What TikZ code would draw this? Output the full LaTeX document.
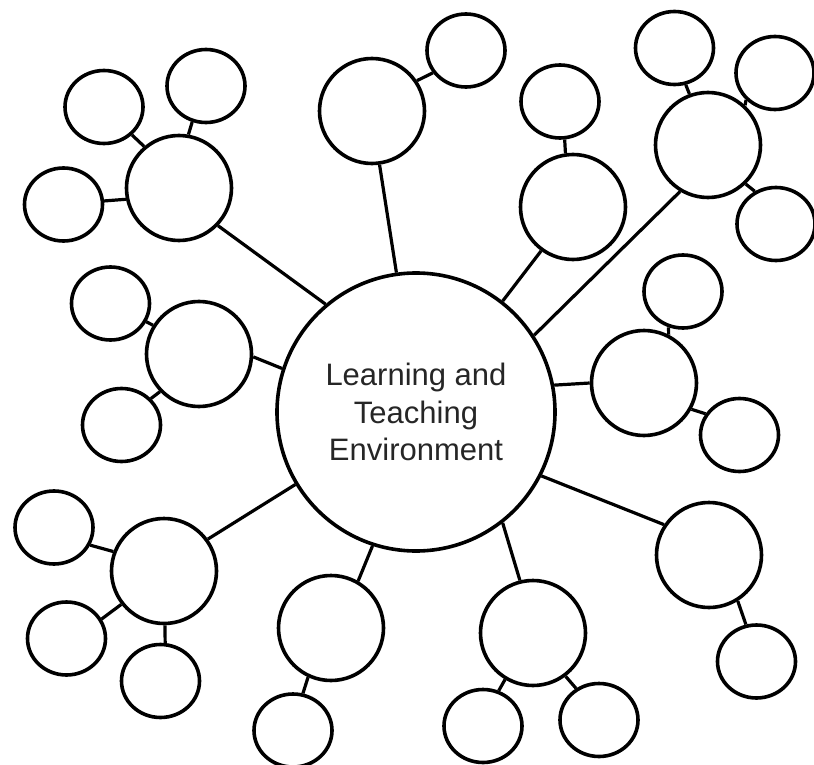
\documentclass[tikz,border=0pt]{standalone}
\usepackage{fontspec}
\setmainfont{Liberation Sans}
\usetikzlibrary{shapes.geometric}
\begin{document}
\begin{tikzpicture}[x=1pt,y=-1pt,
  hub/.style={circle,draw,line width=3.6pt,minimum size=278pt,inner sep=0pt,
    align=center,font=\fontsize{31}{37.5}\selectfont,text=black!85},
  topic/.style={circle,draw,line width=3.6pt,minimum size=105pt,inner sep=0pt},
  leaf/.style={ellipse,draw,line width=3.6pt,minimum width=78pt,minimum height=73pt,inner sep=0pt},
  link/.style={line width=3.2pt}]
\useasboundingbox (0,0) rectangle (814,765);

% central hub
\node[hub] (C) at (416,412) {Learning and\\Teaching\\Environment};

% first ring
\node[topic] (M1) at (179,188) {};
\node[topic] (M2) at (199,354) {};
\node[topic] (M3) at (164,571) {};
\node[topic] (M4) at (331,628) {};
\node[topic] (M5) at (533,633) {};
\node[topic] (M6) at (709,555) {};
\node[topic] (M7) at (644,383) {};
\node[topic] (M8) at (708,145) {};
\node[topic] (M9) at (573,207) {};
\node[topic] (M10) at (372,111) {};

% outer ring
\node[leaf] (L1a) at (104,107) {};
\node[leaf] (L1b) at (206,86) {};
\node[leaf] (L1c) at (63.5,204.5) {};
\node[leaf] (L2a) at (110.5,303.5) {};
\node[leaf] (L2b) at (121.5,425) {};
\node[leaf] (L3a) at (54,527.5) {};
\node[leaf] (L3b) at (66.5,638.5) {};
\node[leaf] (L3c) at (160.5,681) {};
\node[leaf] (L4a) at (293,730.5) {};
\node[leaf] (L5a) at (483,726) {};
\node[leaf] (L5b) at (599,720) {};
\node[leaf] (L6a) at (756.5,661.5) {};
\node[leaf] (L7a) at (683,291.5) {};
\node[leaf] (L7b) at (739.5,435) {};
\node[leaf] (L8a) at (674.5,48) {};
\node[leaf] (L8b) at (775,73) {};
\node[leaf] (L8c) at (776,224) {};
\node[leaf] (L9a) at (560,101.5) {};
\node[leaf] (L10a) at (466,50.5) {};

% hub spokes
\draw[link] (M1.316.4) -- (C.130.5);
\draw[link] (M2.357) -- (C.162.6);
\draw[link] (M3.36.9) -- (C.211.8);
\draw[link] (M4.60.6) -- (C.252.6);
\draw[link] (M5.104.8) -- (C.308.1);
\draw[link] (M6.146.9) -- (C.333.6);
\draw[link] (M7.180) -- (C.11.6);
\draw[link] (M8.239.5) -- (C.33.9);
\draw[link] (M9.234.3) -- (C.52.9);
\draw[link] (M10.278.3) -- (C.98.9);

% short links to the outer ring
\draw[link] (M1.130.7) -- (L1a.315);
\draw[link] (M1.80.4) -- (L1b.249.3);
\draw[link] (M1.192.5) -- (L1c.5);
\draw[link] (M2.148.3) -- (L2a.333.8);
\draw[link] (M2.224.3) -- (L2b.42.6);
\draw[link] (M3.159.6) -- (L3a.334.1);
\draw[link] (M3.218.8) -- (L3b.29.2);
\draw[link] (M3.271) -- (L3c.83.2);
\draw[link] (M4.245.2) -- (L4a.75);
\draw[link] (M5.239.9) -- (L5a.66);
\draw[link] (M5.307.1) -- (L5b.126);
\draw[link] (M6.302) -- (L6a.106.6);
\draw[link] (M7.63.9) -- (L7a.248.7);
\draw[link] (M7.331.6) -- (L7b.148.9);
\draw[link] (M8.110.1) -- (L8a.287.8);
\draw[link] (M8.47.2) -- (L8b.223);
\draw[link] (M8.314.3) -- (L8c.123.3);
\draw[link] (M9.98.3) -- (L9a.277.4);
\draw[link] (M10.34.8) -- (L10a.214.7);
\end{tikzpicture}
\end{document}
